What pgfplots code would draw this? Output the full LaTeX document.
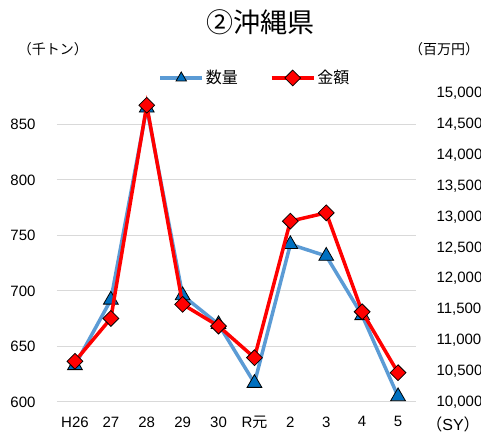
\documentclass[border=0pt]{standalone}
\usepackage{fontspec}
\setmainfont{Liberation Sans}
\newfontfamily\cjk{Noto Sans CJK JP}
\usepackage{pgfplots}
\pgfplotsset{compat=1.18}
\definecolor{qline}{HTML}{5B9BD5}
\definecolor{qfill}{HTML}{0070C0}
\definecolor{gridc}{HTML}{D9D9D9}
\begin{document}
\begin{tikzpicture}
\path[use as bounding box] (-57pt,-36pt) rectangle (424pt,402pt);
\pgfplotsset{
  common/.style={
    scale only axis,
    width=359pt, height=308.4pt,
    xmin=-0.5, xmax=9.5,
    axis line style={draw=none},
    major tick length=0pt,
    tick label style={font=\fontsize{15}{15}\selectfont},
    /pgf/number format/assume math mode=true,
    scaled y ticks=false,
    clip=false,
  },
  legend image code/.code={\draw[mark repeat=2,mark phase=2] plot coordinates {(0pt,0pt) (21pt,0pt) (42pt,0pt)};},
}
\begin{axis}[common,
  ymin=600, ymax=877.78,
  ytick={600,650,...,850},
  ymajorgrids, grid style={gridc, line width=1pt},
  xtick={0,...,9},
  xticklabels={H26,27,28,29,30,{R{\cjk 元}},2,3,4,5},
  xticklabel style={yshift=-11pt},
  yticklabel style={xshift=-18pt},
]
\addplot[qline, line width=3.5pt, mark=triangle*, mark size=8.5pt,
  mark options={fill=qfill, draw=black, line width=0.8pt}]
  coordinates {(0,633) (1,692) (2,865) (3,696) (4,670) (5,617) (6,742) (7,731.5) (8,678) (9,605)};
\end{axis}
\begin{axis}[common,
  ymin=10000, ymax=15000,
  ytick={10000,10500,...,15000},
  axis y line*=right,
  xtick=\empty,
  yticklabel style={xshift=17pt, /pgf/number format/.cd, fixed, 1000 sep={,}},
  legend style={at={(0.5515,1.0506)}, anchor=center, draw=none, fill=none,
    font=\cjk\fontsize{16}{16}\selectfont, legend columns=2,
    /tikz/every even column/.append style={column sep=30pt}},
]
\addlegendimage{qline, line width=3.5pt, mark=triangle*, mark size=6pt,
  mark options={fill=qfill, draw=black, line width=0.8pt}}
\addlegendentry{数量}
\addplot[red, line width=3.5pt, mark=square*, mark size=5.6pt,
  mark options={fill=red, draw=black, line width=0.8pt, rotate=45}]
  coordinates {(0,10660) (1,11355) (2,14811) (3,11583) (4,11231) (5,10718) (6,12932) (7,13067) (8,11463) (9,10475)};
\addlegendentry{金額}
\end{axis}
\node[font=\cjk\fontsize{27}{27}\selectfont] at (203pt,380pt) {②沖縄県};
\node[font=\cjk\fontsize{14}{14}\selectfont] at (-4pt,353pt) {（千トン）};
\node[font=\cjk\fontsize{14}{14}\selectfont] at (387pt,353pt) {（百万円）};
\node[font=\fontsize{16}{16}\selectfont] at (396pt,-22pt) {{\cjk （}SY{\cjk ）}};
\end{tikzpicture}
\end{document}
